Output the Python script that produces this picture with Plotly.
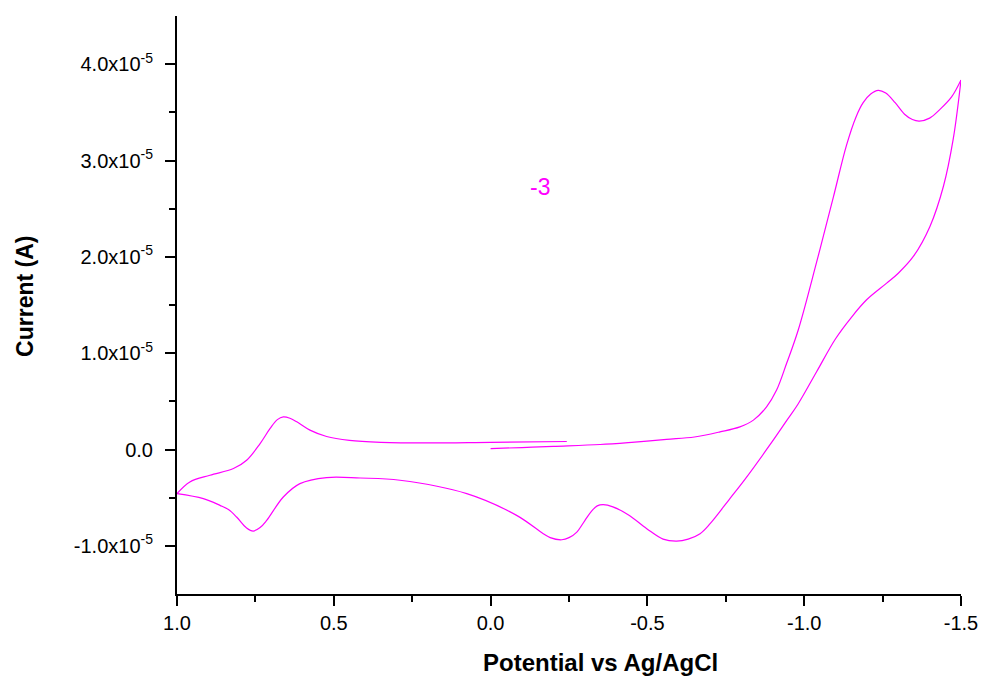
import numpy as np
import plotly.graph_objects as go

# Forward sweep from 0.0 V to -1.5 V (current in units of 1e-5 A)
fwd1_potential = [0.0, -0.10, -0.20, -0.349, -0.45, -0.561, -0.65, -0.7315, -0.795, -0.838, -0.880,
                  -0.912, -0.944, -0.981, -1.040, -1.093, -1.135, -1.165, -1.188, -1.212, -1.236,
                  -1.26, -1.29, -1.32, -1.345, -1.367, -1.40, -1.433, -1.47, -1.5]
fwd1_current = [0.01, 0.02, 0.033, 0.052, 0.075, 0.105, 0.13, 0.183, 0.235, 0.305, 0.443,
                0.617, 0.895, 1.241, 1.95, 2.62, 3.16, 3.45, 3.60, 3.69, 3.728,
                3.70, 3.60, 3.48, 3.425, 3.409, 3.44, 3.531, 3.66, 3.836]

# Reverse sweep from -1.5 V to 1.0 V
rev_potential = [-1.5, -1.475, -1.444, -1.401, -1.348, -1.30, -1.263, -1.199, -1.150, -1.10,
                 -1.040, -0.98, -0.944, -0.891, -0.811, -0.763, -0.70, -0.668, -0.63, -0.593,
                 -0.55, -0.498, -0.44, -0.39, -0.359, -0.34, -0.322, -0.30, -0.275, -0.25, -0.227,
                 -0.19, -0.168, -0.083, 0.076, 0.289, 0.416, 0.523, 0.608, 0.661, 0.714, 0.735,
                 0.757, 0.778, 0.810, 0.836, 0.863, 0.916, 1.0]
rev_current = [3.836, 3.219, 2.733, 2.316, 2.004, 1.83, 1.727, 1.554, 1.37, 1.15,
               0.81, 0.47, 0.30, 0.05, -0.31, -0.51, -0.77, -0.874, -0.93, -0.951,
               -0.93, -0.822, -0.68, -0.595, -0.572, -0.585, -0.64, -0.74, -0.857, -0.915, -0.937,
               -0.915, -0.874, -0.684, -0.458, -0.319, -0.296, -0.291, -0.354, -0.493, -0.736, -0.81,
               -0.847, -0.815, -0.701, -0.624, -0.58, -0.51, -0.458]

# Second forward sweep from 1.0 V to -0.25 V
fwd2_potential = [1.0, 0.959, 0.895, 0.820, 0.778, 0.735, 0.703, 0.68, 0.661, 0.64, 0.618, 0.576,
                  0.523, 0.45, 0.35, 0.2, 0.0, -0.243]
fwd2_current = [-0.458, -0.337, -0.267, -0.198, -0.111, 0.062, 0.219, 0.31, 0.339, 0.325, 0.287,
                0.201, 0.135, 0.095, 0.075, 0.068, 0.075, 0.083]

current_scale = 1e-5  # currents above are in units of 1e-5 A

y_tickvals = [-1e-5, 0.0, 1e-5, 2e-5, 3e-5, 4e-5]
y_ticktext = ["-1.0x10<sup>-5</sup>", "0.0", "1.0x10<sup>-5</sup>", "2.0x10<sup>-5</sup>",
              "3.0x10<sup>-5</sup>", "4.0x10<sup>-5</sup>"]
x_tickvals = [1.0, 0.5, 0.0, -0.5, -1.0, -1.5]
x_ticktext = ["1.0", "0.5", "0.0", "-0.5", "-1.0", "-1.5"]
label_text = "-3"

COLOR = "#FF00FF"
FONT = "Liberation Sans"

fig = go.Figure()
for px_, cy in [(fwd1_potential, fwd1_current), (rev_potential, rev_current), (fwd2_potential, fwd2_current)]:
    fig.add_trace(go.Scatter(
        x=px_, y=np.array(cy) * current_scale, mode="lines",
        line=dict(color=COLOR, width=1.2, shape="spline", smoothing=1.0),
        showlegend=False, hoverinfo="skip"))

fig.add_annotation(x=-0.157, y=2.72e-5, text=label_text, showarrow=False,
                   font=dict(family=FONT, size=23, color=COLOR))
fig.add_annotation(xref="paper", yref="paper", x=(25 - 177) / 784, y=0.514,
                   text="<b>Current (A)</b>", textangle=-90, showarrow=False,
                   xanchor="center", yanchor="middle",
                   font=dict(family=FONT, size=23, color="black"))
fig.add_annotation(xref="paper", yref="paper", x=(600 - 177) / 784, y=-0.118,
                   text="<b>Potential vs Ag/AgCl</b>", showarrow=False,
                   xanchor="center", yanchor="middle",
                   font=dict(family=FONT, size=24, color="black"))

fig.update_layout(
    width=982, height=678,
    margin=dict(l=177, r=21, t=16, b=84, autoexpand=False),
    paper_bgcolor="white", plot_bgcolor="white",
    font=dict(family=FONT, size=20, color="black"),
    xaxis=dict(range=[1.0, -1.5], showgrid=False, zeroline=False, automargin=False,
               ticklabeloverflow="allow",
               showline=True, linecolor="black", linewidth=2,
               ticks="outside", ticklen=10, tickwidth=2, tickcolor="black",
               tickvals=x_tickvals, ticktext=x_ticktext, ticklabelstandoff=0,
               minor=dict(tickvals=[0.75, 0.25, -0.25, -0.75, -1.25], ticks="outside",
                          ticklen=6, tickwidth=2, tickcolor="black"),
               tickfont=dict(family=FONT, size=20, color="black")),
    yaxis=dict(range=[-1.5e-5, 4.5e-5], showgrid=False, zeroline=False, automargin=False,
               showline=True, linecolor="black", linewidth=2,
               ticks="outside", ticklen=10, tickwidth=2, tickcolor="black",
               tickvals=y_tickvals, ticktext=y_ticktext, ticklabelstandoff=8,
               minor=dict(tickvals=[-0.5e-5, 0.5e-5, 1.5e-5, 2.5e-5, 3.5e-5], ticks="outside",
                          ticklen=6, tickwidth=2, tickcolor="black"),
               tickfont=dict(family=FONT, size=20, color="black")),
)

fig.write_html("out.html")
